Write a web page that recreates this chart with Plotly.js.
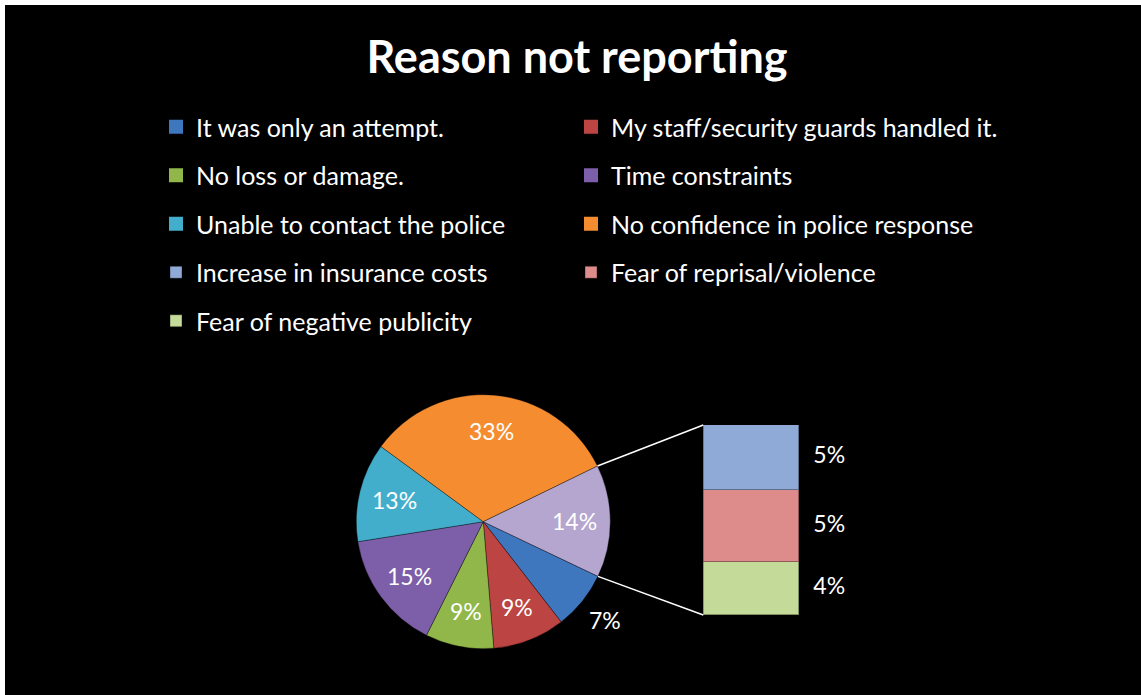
<!DOCTYPE html>
<html><head><meta charset="utf-8">
<script src="https://cdn.plot.ly/plotly-3.0.1.min.js"></script>
<style>html,body{margin:0;padding:0;background:#ffffff;} #chart{position:absolute;left:5px;top:5px;width:1136px;height:690px;}</style>
</head><body><div id="chart"></div><script>
// ---- data ----
const chartTitle = 'Reason not reporting';
const pieLabels = ['It was only an attempt.', 'My staff/security guards handled it.', 'No loss or damage.', 'Time constraints', 'Unable to contact the police', 'No confidence in police response'];
const pieValues = [7.4, 9.2, 8.7, 15.1, 12.6, 32.7];
const pieColors = ['#3F77BE', '#BC4442', '#91B74A', '#7D5EA8', '#43AECB', '#F58D30'];
const otherLabel = 'Other';
const otherColor = '#B5A6CF';
const otherLabels = ['Increase in insurance costs', 'Fear of reprisal/violence', 'Fear of negative publicity'];
const otherValues = [4.9, 5.4, 4.0];
const otherColors = ['#8FAAD6', '#DE8B8B', '#C3DA98'];

// ---- layout geometry ----
const W = 1136, H = 690;
const cx = 478.3, cy = 516.7, r = 127;
const rot = 115.5;
const barLeft = 698.3, barTop = 420, barBottom = 610, barPx = 95.7, barAxisRight = 880;
const FONT = 'Lato, "Open Sans", sans-serif';

const sum = a => a.reduce((s, v) => s + v, 0);
const otherTotal = sum(otherValues);
const total = sum(pieValues) + otherTotal;
const sliceValues = pieValues.concat([otherTotal]);
const pct = v => Math.round(v / total * 100) + '%';

const traces = [];
// pie
traces.push({
  type: 'pie',
  labels: pieLabels.concat([otherLabel]),
  values: sliceValues,
  marker: {colors: pieColors.concat([otherColor]), line: {color: 'rgba(0,0,0,0.35)', width: 1}},
  sort: false,
  direction: 'clockwise',
  rotation: rot,
  textinfo: 'none',
  domain: {x: [(cx - r) / W, (cx + r) / W], y: [1 - (cy + r) / H, 1 - (cy - r) / H]},
  showlegend: false,
  automargin: false,
  hoverinfo: 'label+percent'
});
// legend entries for pie categories
pieLabels.forEach((lab, i) => {
  traces.push({
    type: 'scatter', mode: 'markers', x: [null], y: [null],
    name: lab, marker: {symbol: 'square', size: 14, color: pieColors[i]},
    legend: (i % 2 === 0) ? 'legend' : 'legend2', legendgroup: 'g' + i, legendrank: i,
    hoverinfo: 'skip'
  });
});
// stacked bar of the "Other" breakdown (bottom first)
for (let k = otherLabels.length - 1; k >= 0; k--) {
  const idx = pieLabels.length + k;
  traces.push({
    type: 'bar', x: [0], y: [otherValues[k]], width: [1],
    name: otherLabels[k],
    marker: {color: otherColors[k], line: {color: 'rgba(0,0,0,0.35)', width: 1}},
    legend: (idx % 2 === 0) ? 'legend' : 'legend2', legendgroup: 'g' + idx, legendrank: idx,
    hoverinfo: 'name+y'
  });
}
// bar labels
const lblY = [], lblT = [];
let acc = 0;
for (let k = otherLabels.length - 1; k >= 0; k--) {
  lblY.push(acc + otherValues[k] / 2);
  lblT.push(pct(otherValues[k]));
  acc += otherValues[k];
}
traces.push({
  type: 'scatter', mode: 'text', x: lblY.map(() => 0.65), y: lblY, text: lblT,
  textposition: 'middle right', textfont: {family: FONT, size: 23, color: '#ffffff'},
  showlegend: false, hoverinfo: 'skip', cliponaxis: false
});

// pie percentage labels along each slice's mid-angle
const toRad = d => d * Math.PI / 180;
const annotations = [];
let cum = 0;
sliceValues.forEach((v, i) => {
  const mid = toRad(rot + (cum + v / 2) / total * 360);
  cum += v;
  const f = (i === 0) ? 1.23 : 0.72;
  const px = cx + f * r * Math.sin(mid), py = cy - f * r * Math.cos(mid);
  annotations.push({xref: 'paper', yref: 'paper', x: px / W, y: 1 - py / H, xanchor: 'center', yanchor: 'middle',
    text: pct(v), showarrow: false, font: {family: FONT, size: 23, color: '#ffffff'}});
});

// connector lines from the "Other" slice to the bar
const aLow = toRad(rot);
const aHigh = toRad(rot - otherTotal / total * 360);
const pt = a => [cx + r * Math.sin(a), cy - r * Math.cos(a)];
const pLow = pt(aLow), pHigh = pt(aHigh);
const shapes = [
  {type: 'line', xref: 'paper', yref: 'paper', x0: pHigh[0] / W, y0: 1 - pHigh[1] / H, x1: barLeft / W, y1: 1 - barTop / H, line: {color: '#ffffff', width: 1.5}},
  {type: 'line', xref: 'paper', yref: 'paper', x0: pLow[0] / W, y0: 1 - pLow[1] / H, x1: barLeft / W, y1: 1 - barBottom / H, line: {color: '#ffffff', width: 1.5}}
];

const legendBase = {
  orientation: 'v', yanchor: 'top', xanchor: 'left', y: 1 - 99 / H,
  bgcolor: 'rgba(0,0,0,0)', font: {family: FONT, size: 25, color: '#ffffff'},
  tracegroupgap: 13, traceorder: 'grouped', itemclick: false, itemdoubleclick: false
};

const layout = {
  width: W, height: H,
  paper_bgcolor: '#000000', plot_bgcolor: '#000000',
  margin: {l: 0, r: 0, t: 0, b: 0},
  title: {text: '<b>' + chartTitle + '</b>', font: {family: FONT, size: 45, color: '#ffffff'},
          x: 572 / W, xanchor: 'center', xref: 'container', y: 1 - 52 / H, yanchor: 'middle', yref: 'container'},
  barmode: 'stack', bargap: 0,
  xaxis: {domain: [barLeft / W, barAxisRight / W], range: [-0.5, -0.5 + (barAxisRight - barLeft) / barPx], visible: false, fixedrange: true},
  yaxis: {domain: [1 - barBottom / H, 1 - barTop / H], range: [0, otherTotal], visible: false, fixedrange: true},
  legend: Object.assign({}, legendBase, {x: 151 / W}),
  legend2: Object.assign({}, legendBase, {x: 566 / W}),
  shapes: shapes,
  annotations: annotations,
  showlegend: true
};

Plotly.newPlot('chart', traces, layout, {displayModeBar: false});
</script></body></html>
